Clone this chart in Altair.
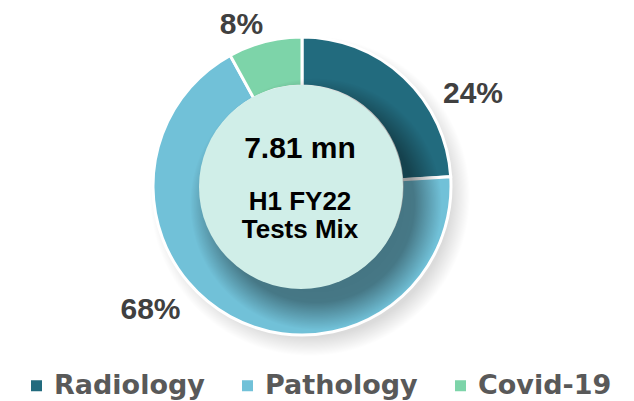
import math
import altair as alt
import pandas as pd

# ---- data ----
categories = ["Radiology", "Pathology", "Covid-19"]
shares = [24, 68, 8]
stack_order = [0, 1, 2]
colors = ["#226B7E", "#71C1D8", "#7DD4A9"]
center_value = "7.81 mn"
center_lines = ["H1 FY22", "Tests Mix"]

df = pd.DataFrame({"category": categories, "share": shares, "order": stack_order})
df["label"] = df["share"].astype(str) + "%"

W, H = 618, 393
CX, CY = 294, 178
R_OUT, R_IN = 149, 100

one = alt.Data(values=[{"k": 1}])
FULL = 2 * math.pi


def shadow(r, dx, dy, stops):
    grad = alt.RadialGradient(
        gradient="radial",
        x1=0.5, y1=0.5, r1=0,
        x2=0.5, y2=0.5, r2=0.5,
        stops=[alt.GradientStop(color=c, offset=o) for o, c in stops],
    )
    return alt.Chart(one).mark_arc(
        theta=0, theta2=FULL, outerRadius=r, innerRadius=0, fill=grad, strokeWidth=0
    ).encode(x=alt.value(CX + dx), y=alt.value(CY + dy))


outer_shadow = shadow(160, 8, 10, [(0, "rgba(0,0,0,0.16)"), (0.88, "rgba(0,0,0,0.14)"), (1, "rgba(0,0,0,0)")])
inner_shadow = shadow(126, 14, 18, [(0, "rgba(0,0,0,0.44)"), (0.78, "rgba(0,0,0,0.38)"), (1, "rgba(0,0,0,0)")])

ring = alt.Chart(df).mark_arc(
    outerRadius=R_OUT, innerRadius=R_IN, stroke="white", strokeWidth=3
).encode(
    theta=alt.Theta("share:Q", stack=True),
    order=alt.Order("order:Q"),
    color=alt.Color(
        "category:N",
        scale=alt.Scale(domain=categories, range=colors),
        legend=alt.Legend(
            title=None,
            orient="none",
            legendX=15,
            legendY=364,
            direction="horizontal",
            columns=3,
            columnPadding=29,
            symbolType="square",
            symbolSize=121,
            symbolStrokeWidth=0,
            symbolOpacity=1,
            labelOffset=4,
            labelFont="DejaVu Sans",
            labelFontWeight="bold",
            labelFontSize=27,
            labelColor="#595959",
            labelLimit=300,
            padding=0,
        ),
    ),
    x=alt.value(CX),
    y=alt.value(CY),
)

inner_circle = alt.Chart(one).mark_arc(
    theta=0, theta2=FULL, outerRadius=102, innerRadius=0, fill="#D0EEE8", strokeWidth=0
).encode(x=alt.value(CX - 1), y=alt.value(CY + 1))

FONT = "Liberation Sans"


def center_text(txt, y, size):
    return alt.Chart(alt.Data(values=[{"t": txt}])).mark_text(
        font=FONT, fontWeight="bold", fontSize=size, color="#000000",
        align="center", baseline="alphabetic",
    ).encode(text="t:N", x=alt.value(292), y=alt.value(y))


texts = [
    center_text(center_value, 150, 30),
    center_text(center_lines[0], 202, 26),
    center_text(center_lines[1], 229.5, 26),
]

label_pos = {"Covid-19": (233.5, 26), "Radiology": (465, 95), "Pathology": (142.5, 311)}
labels = []
for cat in categories:
    lx, ly = label_pos[cat]
    labels.append(
        alt.Chart(df).transform_filter(alt.datum.category == cat).mark_text(
            font=FONT, fontWeight="bold", fontSize=30, color="#404040",
            align="center", baseline="alphabetic",
        ).encode(text="label:N", x=alt.value(lx), y=alt.value(ly))
    )

chart = alt.layer(
    outer_shadow, ring, inner_shadow, inner_circle, *texts, *labels
).properties(
    width=W, height=H, padding=0, autosize=alt.AutoSizeParams(type="none")
).configure_view(stroke=None)

chart.save("out.html", embed_options={"renderer": "svg", "actions": False})
